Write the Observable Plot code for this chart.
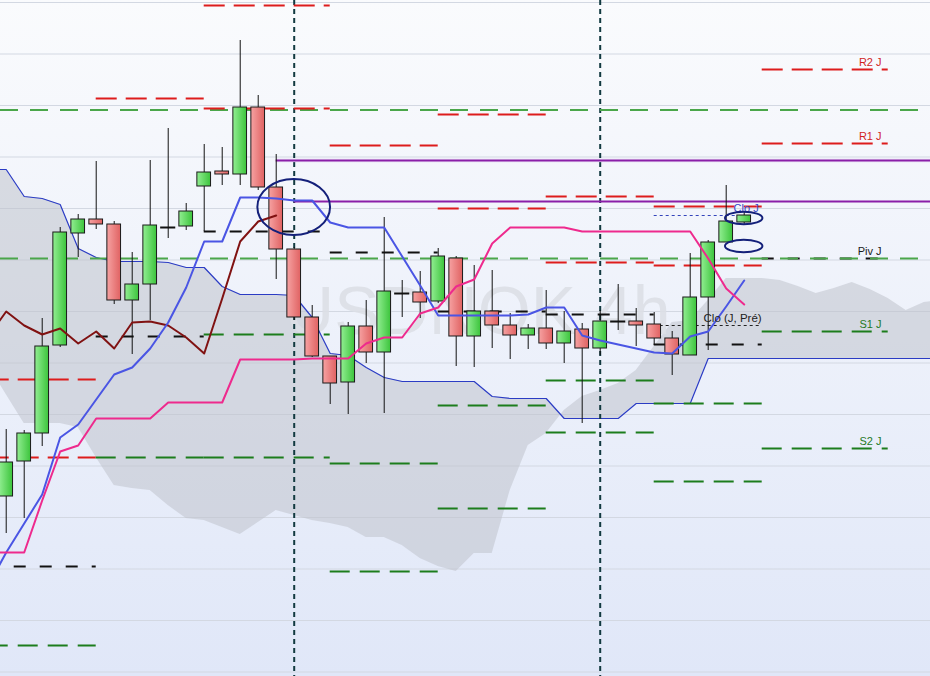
<!DOCTYPE html>
<html><head><meta charset="utf-8">
<script src="https://cdn.jsdelivr.net/npm/d3@7"></script>
<script src="https://cdn.jsdelivr.net/npm/@observablehq/plot@0.6"></script>
<style>
html,body{margin:0;padding:0;overflow:hidden;background:#fff;}
#chart svg{display:block;}
</style></head><body><div id="chart"></div>
<script>
// ---- USDNOK 4h : candles (price in chart points, up = higher) ----
const candleIdx = d3.range(0, 42);
const opens  = [180,215,243,331,443,457,452,376,392,449,450,490,505,502,569,489,427,359,320,294,350,324,383,384,375,418,340,365,351,341,348,333,347,328,355,355,352,338,321,379,434,454];
const highs  = [247,246,358,449,462,515,455,424,516,548,473,532,529,636,581,522,429,371,320,354,376,459,396,405,428,420,411,406,363,352,386,365,353,366,392,368,364,345,423,436,491,464];
const lows   = [143,158,230,329,419,447,372,322,356,438,446,445,491,491,486,397,356,319,272,262,313,263,359,358,373,310,309,328,317,327,327,313,253,321,346,330,331,301,321,326,434,452];
const closes = [214,243,330,444,457,452,376,392,451,449,465,504,502,569,489,427,359,320,293,350,324,385,383,374,420,340,365,351,341,348,333,345,328,355,355,351,338,322,379,434,455,461];

// ---- Ichimoku lines ----
const lineIdx = d3.range(-1, 42);
const tenkan = [91,124,153,182,239,252,277,302,309,328,354,389,435,435,479,479,478,476,476,454,449,449,449,420,391,361,361,361,361,361,362,369,369,341,336,332,328,324,323,340,345,370,396];
const kijun  = [124,124,124,176,225,231,258,258,258,258,274,274,274,274,317,317,317,317,318,318,318,333,339,339,363,369,390,397,433,449,449,449,449,445,445,445,445,445,445,445,418,388,372];
const chikouIdx = d3.range(-1, 16);
const chikou = [340,365,351,342,348,333,345,328,354,355,351,339,323,378,435,455,461];
const cloudIdx = d3.range(-1, 53);
const spanA = [507,507,480,478,472,428,419,415,415,415,414,409,409,390,382,382,382,381,359,323,321,309,299,295,295,295,295,295,280,278,278,278,258,258,258,258,273,273,273,273,318,318,318,318,318,318,318,318,318,318,318,318,318,318];
const spanB = [311,282,253,253,253,249,219,191,188,186,171,158,156,149,142,154,166,161,156,153,149,139,139,131,118,110,105,123,123,186,231,243,266,280,286,293,306,330,354,356,376,398,398,398,396,390,383,388,394,387,378,366,374,376];

// ---- daily pivot levels ----
const dayStart = [-1, 5, 11, 18, 24, 30, 36, 42];
const dayEnd   = [ 5, 11, 18, 24, 30, 36, 42, 49];
const r2  = [297, 578, 671, null, 562, 480, 470, 607];
const r1  = [219, null, 568, 531, 468, 414, 411, 533];
const piv = [110, 340, 445, 424, 365, 362, 332, 418];
const s1  = [31, 219, 342, 213, 271, 296, 273, 345];
const s2  = [null, null, 219, 105, 168, 244, 195, 228];
const longGreen = [566.5, 418];
const purpleLevels = [516, 475];
const purpleStart = [15, 16];
const separators = [16, 33];
const cloPrev = 351, cloNow = 461;
const gridValues = [4.5,56,107.5,159,210.5,262,313.5,365,416.5,468,519.5,571,622.5,674];
const rightLabels = ["R2 J","R1 J","Piv J","S1 J","S2 J"];
const rightLabelColors = ["#d11f1f","#d11f1f","#1a1a1a","#1f7a1f","#1f7a1f"];
const watermark = "USDNOK 4h";
const ellipses = [{i:16, v:469, rx:2.02, ry:28}, {i:41, v:458, rx:1.04, ry:6.2}, {i:41, v:430, rx:1.04, ry:6.2}];

// ---- build tables ----
const candles = candleIdx.map((i,k)=>({i, o:opens[k], h:highs[k], l:lows[k], c:closes[k]}));
const greens = candles.filter(d=>d.c>d.o), reds = candles.filter(d=>d.c<d.o), dojis = candles.filter(d=>d.c===d.o);
const tk = lineIdx.map((i,k)=>({i, v:tenkan[k]}));
const kj = lineIdx.map((i,k)=>({i, v:kijun[k]}));
const ck = chikouIdx.map((i,k)=>({i, v:chikou[k]}));
const cloud = cloudIdx.map((i,k)=>({i, a:spanA[k], b:spanB[k]}));
const rows = arr => dayStart.map((s,k)=>({x1:s, x2:dayEnd[k], v:arr[k]})).filter(d=>d.v!=null);
const redRows = [...rows(r2), ...rows(r1)];
const greenRows = [...rows(s1), ...rows(s2)];
const pivRows = rows(piv);
const last = dayStart.length-1;
const labelRows = [r2[last], r1[last], piv[last], s1[last], s2[last]].map((v,k)=>({v, t:rightLabels[k], c:rightLabelColors[k]}));
const purpleRows = purpleLevels.map((v,k)=>({v, x1:purpleStart[k], x2:53}));

const plot = Plot.plot({
  width: 930, height: 676, margin: 0,
  x: {type:"linear", domain:[-0.317, 51.35], axis:null},
  y: {type:"linear", domain:[0, 676], axis:null},
  color: {type:"identity"},
  style: {background:"linear-gradient(#fafbfd, #e0e7f8)", fontFamily:"Arial, 'Liberation Sans', sans-serif", overflow:"hidden"},
  marks: [
    Plot.ruleY(gridValues, {stroke:"#d3d8e2", strokeWidth:1}),
    Plot.areaY(cloud, {x:"i", y1:"a", y2:"b", fill:"#bfc3cc", fillOpacity:0.55}),
    Plot.text([watermark], {x:26.2, y:364, text:d=>d, fontSize:68, fill:"#dcdfe6", fillOpacity:0.9}),
    Plot.line(cloud, {x:"i", y:"a", stroke:"#2b3cc4", strokeWidth:1.2}),
    Plot.ruleX(separators, {stroke:"#123a40", strokeWidth:2, strokeDasharray:"5,4"}),
    Plot.ruleY(pivRows, {x1:"x1", x2:"x2", y:"v", stroke:"#111", strokeWidth:2, strokeDasharray:"12,14"}),
    Plot.ruleY(longGreen, {stroke:"#4aa64a", strokeWidth:2, strokeDasharray:"18,12"}),
    Plot.ruleY(redRows, {x1:"x1", x2:"x2", y:"v", stroke:"#dd1c1c", strokeWidth:2, strokeDasharray:"21,9"}),
    Plot.ruleY(greenRows, {x1:"x1", x2:"x2", y:"v", stroke:"#1c7d1c", strokeWidth:2, strokeDasharray:"20,10"}),
    Plot.ruleY(purpleRows.slice(0,1), {x1:"x1", x2:"x2", y:"v", stroke:"#dcc0f0", strokeWidth:4, strokeOpacity:0.3}),
    Plot.ruleY(purpleRows, {x1:"x1", x2:"x2", y:"v", stroke:"#8a1fa8", strokeWidth:2}),
    Plot.ruleY([cloPrev], {x1:36, x2:42, stroke:"#222", strokeWidth:1, strokeDasharray:"3,3"}),
    Plot.ruleY([cloNow], {x1:36, x2:40.5, stroke:"#3344bb", strokeWidth:1, strokeDasharray:"3,3"}),
    Plot.ruleX(candles, {x:"i", y1:"l", y2:"h", stroke:"#111", strokeWidth:1}),
    Plot.rect(greens, {x1:d=>d.i-0.38, x2:d=>d.i+0.38, y1:"o", y2:"c", fill:"url(#gG)", stroke:"#1a1a1a", strokeWidth:1}),
    Plot.rect(reds, {x1:d=>d.i-0.38, x2:d=>d.i+0.38, y1:"o", y2:"c", fill:"url(#gR)", stroke:"#1a1a1a", strokeWidth:1}),
    Plot.ruleY(dojis, {x1:d=>d.i-0.42, x2:d=>d.i+0.42, y:"o", stroke:"#111", strokeWidth:2}),
    Plot.line(ck, {x:"i", y:"v", stroke:"#801212", strokeWidth:2}),
    Plot.line(tk, {x:"i", y:"v", stroke:"#4a55e4", strokeWidth:2}),
    Plot.line(kj, {x:"i", y:"v", stroke:"#ee2a8d", strokeWidth:2}),
    Plot.text(labelRows, {x:48.63, y:"v", text:"t", fill:"c", textAnchor:"end", dy:-7.5, fontSize:11}),
    Plot.text(["Clo (J, Pré)"], {x:38.74, y:358, text:d=>d, fill:"#222", textAnchor:"start", fontSize:11.5}),
    Plot.text(["Clo J"], {x:40.41, y:468.5, text:d=>d, fill:"#3a48c8", textAnchor:"start", fontSize:11})
  ]
});

const svg = d3.select(plot);
const defs = svg.insert("defs", ":first-child");
const gg = defs.append("linearGradient").attr("id","gG").attr("x1",0).attr("x2",1).attr("y1",0).attr("y2",0);
gg.append("stop").attr("offset",0).attr("stop-color","#92ee92");
gg.append("stop").attr("offset",1).attr("stop-color","#3cc43c");
const gr = defs.append("linearGradient").attr("id","gR").attr("x1",0).attr("x2",1).attr("y1",0).attr("y2",0);
gr.append("stop").attr("offset",0).attr("stop-color","#f6a2a2");
gr.append("stop").attr("offset",1).attr("stop-color","#e06262");

const sx = plot.scale("x"), sy = plot.scale("y");
const fx = sx.apply ? v=>sx.apply(v) : d3.scaleLinear(sx.domain, sx.range);
const fy = sy.apply ? v=>sy.apply(v) : d3.scaleLinear(sy.domain, sy.range);
svg.append("g").selectAll("ellipse").data(ellipses).join("ellipse")
  .attr("cx", d=>fx(d.i)).attr("cy", d=>fy(d.v))
  .attr("rx", d=>Math.abs(fx(d.i+d.rx)-fx(d.i))).attr("ry", d=>Math.abs(fy(d.v-d.ry)-fy(d.v)))
  .attr("fill","none").attr("stroke","#14207a").attr("stroke-width",2);

document.getElementById("chart").appendChild(plot);
</script>
</body></html>
